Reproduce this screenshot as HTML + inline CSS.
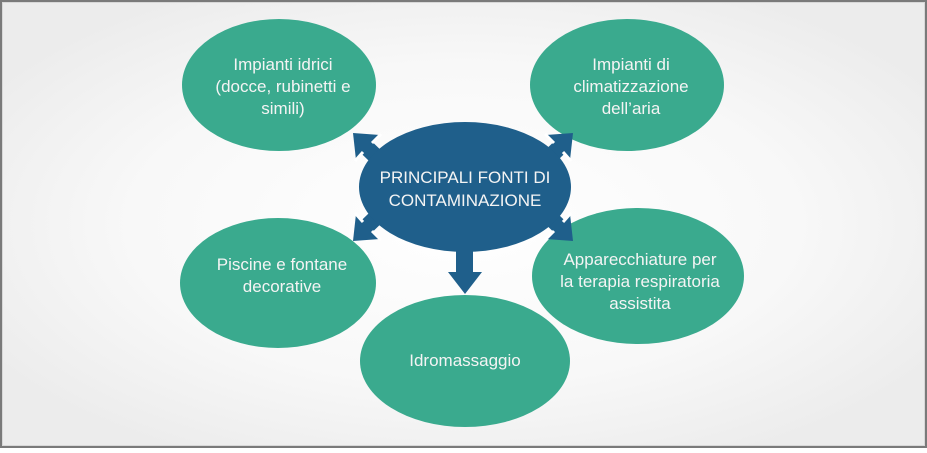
<!DOCTYPE html>
<html><head><style>
html,body{margin:0;padding:0;}
body{width:927px;height:448px;overflow:hidden;}
</style></head><body>
<svg width="927" height="448" viewBox="0 0 927 448" xmlns="http://www.w3.org/2000/svg" font-family="Liberation Sans, sans-serif">
<defs>
<radialGradient id="bg" cx="50%" cy="50%" r="60%">
<stop offset="0" stop-color="#ffffff"/><stop offset="0.6" stop-color="#f8f8f8"/><stop offset="1" stop-color="#ececec"/>
</radialGradient>
<g id="arr">
<line x1="362" y1="143" x2="400" y2="180" stroke="#1f5f8b" stroke-width="16"/>
<polygon points="353,133 380,135 356,160" fill="#1f5f8b"/>
<line x1="381" y1="134" x2="372" y2="143" stroke="#fff" stroke-width="3"/>
<line x1="355" y1="161" x2="363" y2="152" stroke="#fff" stroke-width="3"/>
</g>
</defs>
<rect x="0" y="0" width="927" height="448" fill="#7a7a7a"/>
<rect x="2" y="2" width="923" height="444" fill="#d8d8d8"/>
<rect x="3" y="3" width="921" height="442" fill="url(#bg)"/>
<g fill="#3aaa8e">
<ellipse cx="279" cy="85" rx="97" ry="66"/>
<ellipse cx="627" cy="85" rx="97" ry="66"/>
<ellipse cx="278" cy="283" rx="98" ry="65"/>
<ellipse cx="638" cy="276" rx="106" ry="68"/>
<ellipse cx="465" cy="361" rx="105" ry="66"/>
</g>
<use href="#arr"/>
<use href="#arr" transform="translate(926,0) scale(-1,1)"/>
<use href="#arr" transform="translate(0,374) scale(1,-1)"/>
<use href="#arr" transform="translate(926,374) scale(-1,-1)"/>
<ellipse cx="465" cy="187" rx="106" ry="65" fill="#1f5f8b"/>
<rect x="456" y="245" width="17" height="28" fill="#1f5f8b"/>
<polygon points="448,272 482,272 465,294" fill="#1f5f8b"/>
<g fill="#f4f4f4" font-size="17" text-anchor="middle">
<text x="465" y="183">PRINCIPALI FONTI DI</text>
<text x="465" y="206">CONTAMINAZIONE</text>
<text x="283" y="70">Impianti idrici</text>
<text x="283" y="92">(docce, rubinetti e</text>
<text x="283" y="114">simili)</text>
<text x="631" y="70">Impianti di</text>
<text x="631" y="92">climatizzazione</text>
<text x="631" y="114">dell’aria</text>
<text x="282" y="270">Piscine e fontane</text>
<text x="282" y="292">decorative</text>
<text x="640" y="265">Apparecchiature per</text>
<text x="640" y="287">la terapia respiratoria</text>
<text x="640" y="309">assistita</text>
<text x="465" y="366">Idromassaggio</text>
</g>
</svg>
</body></html>
